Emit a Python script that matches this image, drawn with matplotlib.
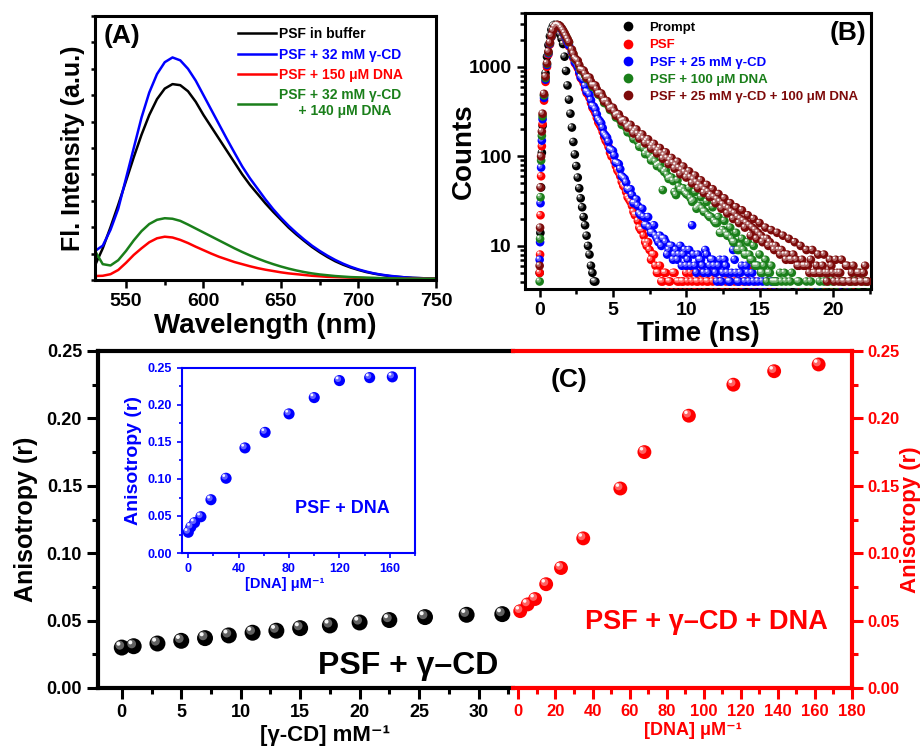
import numpy as np
import matplotlib
matplotlib.use('Agg')
import matplotlib.pyplot as plt
from matplotlib.lines import Line2D
from matplotlib.ticker import MultipleLocator, FormatStrFormatter, LogLocator, NullFormatter
from matplotlib.transforms import offset_copy
from matplotlib.colors import to_rgb

plt.rcParams['font.family'] = ['Liberation Sans', 'DejaVu Sans']
plt.rcParams['font.weight'] = 'bold'
plt.rcParams['axes.labelweight'] = 'bold'

GREEN  = '#1a7f1a'
MAROON = '#7d0a0a'

# ---- (A) steady-state emission spectra ----
wavelength = np.arange(530, 751, 5)
fl_buffer = [0.055, 0.12, 0.20, 0.285, 0.375, 0.465, 0.55, 0.625, 0.685, 0.725,
             0.742, 0.738, 0.715, 0.675, 0.625, 0.58, 0.535, 0.49, 0.445, 0.40,
             0.36, 0.325, 0.29, 0.258, 0.228, 0.198, 0.172, 0.148, 0.125, 0.105,
             0.087, 0.071, 0.058, 0.047, 0.038, 0.030, 0.024, 0.019, 0.015, 0.012,
             0.010, 0.008, 0.007, 0.006, 0.005]
fl_cd     = [0.11, 0.13, 0.19, 0.27, 0.385, 0.50, 0.615, 0.71, 0.78, 0.825,
             0.843, 0.832, 0.80, 0.755, 0.70, 0.645, 0.59, 0.535, 0.482, 0.43,
             0.385, 0.345, 0.305, 0.268, 0.235, 0.205, 0.178, 0.153, 0.13, 0.11,
             0.092, 0.076, 0.062, 0.05, 0.04, 0.032, 0.025, 0.02, 0.016, 0.013,
             0.010, 0.008, 0.007, 0.006, 0.005]
fl_dna    = [0.015, 0.016, 0.022, 0.038, 0.065, 0.095, 0.12, 0.143, 0.158, 0.164,
             0.161, 0.152, 0.14, 0.126, 0.113, 0.10, 0.088, 0.078, 0.068, 0.06,
             0.052, 0.045, 0.039, 0.034, 0.029, 0.025, 0.022, 0.019, 0.016, 0.014,
             0.012, 0.011, 0.010, 0.009, 0.008, 0.007, 0.007, 0.006, 0.006, 0.005,
             0.005, 0.005, 0.005, 0.005, 0.005]
fl_cd_dna = [0.11, 0.06, 0.055, 0.075, 0.11, 0.15, 0.185, 0.212, 0.228, 0.234,
             0.232, 0.224, 0.21, 0.195, 0.18, 0.165, 0.15, 0.135, 0.12, 0.106,
             0.093, 0.081, 0.07, 0.06, 0.051, 0.043, 0.036, 0.03, 0.025, 0.021,
             0.018, 0.015, 0.013, 0.011, 0.010, 0.009, 0.008, 0.007, 0.006, 0.006,
             0.005, 0.005, 0.005, 0.005, 0.005]

# ---- (B) TCSPC decays ----
t_prompt = [0.0, 0.05, 0.1, 0.15, 0.2, 0.3, 0.4, 0.5, 0.6, 0.7, 0.8, 0.9, 1.0, 1.1,
            1.2, 1.3, 1.4, 1.5, 1.6, 1.7, 1.8, 1.9, 2.0, 2.1, 2.2, 2.3, 2.4, 2.5,
            2.6, 2.7, 2.8, 2.9, 3.0, 3.1, 3.2, 3.3, 3.4, 3.5, 3.6, 3.7, 3.8]
prompt   = [5, 14, 45, 110, 220, 480, 850, 1300, 1750, 2200, 2600, 2850, 2950, 2900,
            2750, 2550, 2300, 2050, 1800, 1300, 900, 620, 430, 300, 210, 145, 105, 78,
            58, 44, 34, 27, 21, 17, 13, 10, 8, 6, 5, 4, 4]

# channel times: rising edge, then even and odd channels of the decay
t_rise = [0.0, 0.03, 0.06, 0.1, 0.15, 0.2, 0.3, 0.4, 0.5, 0.6, 0.7, 0.8, 0.9, 1.0,
          1.1, 1.2, 1.3, 1.4, 1.5, 1.6, 1.7, 1.8, 1.9, 2.0]
t_even = np.round(np.arange(2.2, 22.41, 0.2), 2)
t_odd  = np.round(np.arange(2.3, 22.31, 0.2), 2)
t_fl = np.concatenate([t_rise, t_even, t_odd])

psf = [5, 8, 22, 60, 130, 230, 420, 680, 1000, 1380, 1780, 2150, 2480, 2720,
       2860, 2920, 2880, 2780, 2620, 2440, 2240, 2050, 1880, 1700,
       # even channels
       1450, 1100, 970, 750, 660, 510, 450, 350, 305, 240,
       210, 165, 142, 110, 98, 78, 66, 52, 45, 35,
       31, 24, 22, 16, 15, 11, 11, 7, 8, 5,
       6, 4, 5, 4, 3, 5, 4, 3, 4, 5,
       3, 4, 3, 4, 5, 3, 4, 2, 4, 3,
       4, 3, 5, 3, 4, 2, 3, 4, 3, 2,
       4, 6, 3, 2, 3, 2, 3, 2, 2, 3,
       2, 3, 2, 2, 3, 2, 2, 3, 2, 2,
       2, 2, 3, 2, 2, 2, 3, 2, 2, 2,
       2, 3, 2, 2, 2, 2, 3, 2, 2, 2,
       2, 2,
       # odd channels
       1250, 1050, 840, 720, 570, 490, 395, 330, 270, 225,
       188, 150, 128, 100, 88, 70, 60, 47, 40, 33,
       28, 22, 19, 15, 13, 10, 9, 8, 6, 5,
       4, 5, 3, 4, 5, 3, 4, 4, 3, 4,
       5, 3, 4, 3, 4, 2, 4, 3, 5, 2,
       4, 3, 4, 2, 3, 4, 2, 3, 4, 2,
       3, 2, 4, 2, 3, 2, 2, 3, 2, 2,
       2, 2, 3, 2, 2, 2, 2, 3, 2, 2,
       2, 3, 2, 2, 2, 2, 2, 2, 3, 2,
       2, 2, 2, 3, 2, 2, 2, 2, 2, 2,
       2]
psf_cd = [7, 11, 30, 75, 150, 260, 450, 720, 1050, 1420, 1820, 2180, 2500, 2740,
          2880, 2930, 2900, 2800, 2650, 2470, 2280, 2090, 1910, 1740,
          # even channels
          1480, 1130, 1000, 770, 710, 530, 490, 365, 335, 260,
          235, 178, 162, 120, 115, 85, 82, 60, 56, 43,
          43, 30, 33, 23, 26, 17, 21, 14, 17, 12,
          13, 12, 11, 9, 10, 8, 7, 10, 8, 6,
          9, 17, 6, 8, 7, 5, 8, 6, 7, 5,
          6, 4, 7, 5, 4, 9, 5, 4, 6, 4,
          5, 3, 4, 6, 3, 4, 3, 2, 4, 3,
          2, 3, 2, 2, 3, 2, 2, 2, 3, 2,
          2, 2, 2, 3, 2, 2, 2, 2, 2, 2,
          2, 2, 2, 2, 3, 2, 2, 2, 2, 2,
          2, 2,
          # odd channels
          1290, 1080, 880, 740, 610, 520, 425, 360, 295, 248,
          208, 170, 145, 118, 102, 84, 72, 58, 51, 42,
          37, 30, 28, 22, 21, 17, 16, 14, 13, 11,
          10, 12, 8, 10, 7, 9, 8, 6, 9, 7,
          6, 8, 5, 7, 6, 9, 5, 7, 6, 4,
          7, 5, 6, 4, 5, 7, 4, 5, 3, 6,
          4, 5, 3, 4, 5, 3, 4, 2, 3, 4,
          2, 2, 3, 2, 2, 2, 3, 2, 2, 2,
          2, 2, 2, 2, 3, 2, 2, 2, 2, 2,
          2, 3, 2, 2, 2, 2, 2, 2, 2, 2,
          2]
psf_dna = [4, 12, 35, 90, 170, 280, 480, 750, 1080, 1450, 1850, 2200, 2520, 2750,
           2890, 2940, 2910, 2830, 2690, 2530, 2360, 2190, 2030, 1880,
           # even channels
           1530, 1230, 1140, 920, 890, 735, 730, 600, 595, 490,
           490, 395, 405, 330, 340, 272, 278, 225, 232, 186,
           195, 156, 162, 128, 138, 106, 114, 90, 98, 78,
           82, 42, 70, 56, 58, 40, 54, 42, 44, 38,
           44, 31, 40, 27, 35, 24, 31, 21, 27, 18,
           21, 14, 19, 13, 16, 11, 14, 9, 12, 8,
           11, 7, 10, 6, 8, 5, 7, 5, 6, 4,
           4, 5, 3, 4, 3, 5, 2, 4, 3, 3,
           4, 2, 3, 5, 3, 2, 4, 3, 2, 4,
           3, 2, 4, 3, 2, 3, 2, 5, 3, 2,
           4, 3,
           # odd channels
           1380, 1190, 1020, 900, 800, 735, 660, 600, 540, 490,
           440, 400, 365, 335, 305, 278, 252, 230, 210, 192,
           175, 160, 146, 133, 122, 112, 102, 94, 87, 80,
           73, 67, 62, 57, 53, 37, 46, 42, 40, 37,
           34, 32, 26, 28, 26, 24, 22, 21, 19, 18,
           14, 15, 14, 13, 12, 11, 9, 10, 9, 8,
           8, 7, 6, 6, 5, 6, 4, 5, 4, 4,
           3, 4, 5, 3, 4, 2, 3, 4, 3, 2,
           3, 4, 2, 3, 4, 3, 2, 4, 3, 2,
           3, 2, 4, 2, 3, 4, 2, 3, 5, 2,
           4]
psf_cd_dna = [6, 16, 45, 100, 190, 300, 500, 780, 1100, 1480, 1870, 2220, 2540, 2770,
              2900, 2950, 2920, 2840, 2700, 2550, 2380, 2210, 2050, 1900,
              # even channels
              1560, 1250, 1170, 930, 910, 750, 760, 620, 620, 500,
              505, 410, 415, 340, 350, 285, 295, 245, 252, 210,
              225, 180, 200, 158, 176, 140, 155, 122, 138, 108,
              124, 94, 111, 82, 96, 73, 87, 63, 77, 58,
              68, 50, 61, 44, 54, 39, 48, 35, 43, 30,
              38, 26, 34, 23, 30, 20, 27, 18, 25, 16,
              22, 13, 20, 12, 18, 11, 16, 10, 15, 9,
              14, 8, 13, 7, 12, 7, 11, 6, 10, 6,
              9, 5, 9, 5, 8, 5, 8, 4, 7, 5,
              7, 4, 7, 4, 6, 4, 6, 4, 5, 4,
              6, 4,
              # odd channels
              1400, 1200, 1050, 920, 830, 760, 685, 620, 560, 505,
              458, 415, 378, 345, 318, 292, 268, 250, 230, 216,
              200, 190, 178, 166, 157, 148, 138, 131, 122, 116,
              108, 102, 95, 90, 84, 79, 74, 70, 66, 62,
              58, 55, 51, 48, 45, 42, 40, 37, 35, 33,
              31, 29, 27, 26, 24, 23, 21, 20, 19, 18,
              17, 16, 15, 14, 13, 12, 12, 11, 10, 10,
              9, 9, 8, 8, 7, 8, 7, 6, 7, 6,
              6, 7, 5, 6, 5, 6, 5, 5, 6, 4,
              5, 5, 4, 6, 4, 5, 4, 5, 4, 5,
              4]

# ---- (C) anisotropy titrations ----
cd_conc  = [0, 1, 3, 5, 7, 9, 11, 13, 15, 17.5, 20, 22.5, 25.5, 29, 32]
r_cd     = [0.030, 0.031, 0.033, 0.035, 0.037, 0.039, 0.041, 0.0425, 0.0444,
            0.0464, 0.0486, 0.0504, 0.0526, 0.0543, 0.0548]
dna_conc = [1, 5, 9, 15, 23, 35, 55, 68, 92, 116, 138, 162]
r_cd_dna = [0.057, 0.062, 0.066, 0.077, 0.089, 0.111, 0.148, 0.175, 0.202,
            0.225, 0.235, 0.240]
dna_free = [0, 2, 5, 10, 18, 30, 45, 61, 80, 100, 120, 144, 162]
r_dna    = [0.028, 0.035, 0.041, 0.049, 0.072, 0.101, 0.142, 0.163, 0.188,
            0.210, 0.233, 0.237, 0.238]


def balls(ax, x, y, color, size, z=3, clip=True):
    """Scatter drawn as shaded spheres: base disc plus two offset highlights."""
    fig = ax.figure
    ax.scatter(x, y, s=size ** 2, c=[color], edgecolors='none', zorder=z, clip_on=clip)
    light = tuple(c + (1 - c) * 0.45 for c in to_rgb(color))
    for frac, col, alpha in ((0.55, light, 0.85), (0.25, 'white', 0.95)):
        off = offset_copy(ax.transData, fig=fig, x=-size * (1 - frac) * 0.28,
                          y=size * (1 - frac) * 0.32, units='points')
        ax.scatter(x, y, s=(size * frac) ** 2, c=[col], edgecolors='none',
                   alpha=alpha, zorder=z, transform=off, clip_on=clip)


def style(ax, color, lw, fs, major=6, minor=3.5, tw=1.8):
    for sp in ax.spines.values():
        sp.set_linewidth(lw)
        sp.set_color(color)
    ax.tick_params(which='both', direction='out', width=tw, colors=color,
                   labelsize=fs, labelcolor=color)
    ax.tick_params(which='major', length=major)
    ax.tick_params(which='minor', length=minor)


W, H = 924, 755
def box(l, t, r, b):
    return [l / W, 1 - b / H, (r - l) / W, (b - t) / H]

fig = plt.figure(figsize=(9.24, 7.55), dpi=100)
axA = fig.add_axes(box(95, 16, 436, 280))
axB = fig.add_axes(box(525, 13, 871, 289))
axL = fig.add_axes(box(98, 351, 513, 688))
axR = fig.add_axes(box(513, 351, 852, 688))
axI = fig.add_axes(box(182, 368, 415, 553))

# ---- panel A ----
axA.plot(wavelength, fl_buffer, color='black', lw=1.8, label='PSF in buffer')
axA.plot(wavelength, fl_cd, color='blue', lw=1.8, label='PSF + 32 mM γ-CD')
axA.plot(wavelength, fl_dna, color='red', lw=1.8, label='PSF + 150 μM DNA')
axA.plot(wavelength, fl_cd_dna, color=GREEN, lw=1.8,
         label='PSF + 32 mM γ-CD\n     + 140 μM DNA')
axA.set_xlim(530, 750)
axA.set_ylim(0, 1)
style(axA, 'black', 2.2, 14)
axA.xaxis.set_major_locator(MultipleLocator(50))
axA.xaxis.set_minor_locator(MultipleLocator(25))
axA.yaxis.set_major_locator(MultipleLocator(0.1))
axA.tick_params(axis='y', labelleft=False, length=3)
axA.set_xlabel('Wavelength (nm)', fontsize=20)
axA.set_ylabel('Fl. Intensity (a.u.)', fontsize=18)
axA.xaxis.set_label_coords(0.5, -0.125)
axA.yaxis.set_label_coords(-0.03, 0.5)
axA.text(0.08, 0.925, '(A)', transform=axA.transAxes, fontsize=19,
         ha='center', va='center')
axA.legend(loc='upper left', bbox_to_anchor=(0.418, 0.957), frameon=False,
           fontsize=10, handlelength=2.8, handletextpad=0.15, labelspacing=0.45,
           borderpad=0, borderaxespad=0, labelcolor='linecolor')

# ---- panel B ----
decays = [
    (t_prompt, prompt, 'black', 'Prompt'),
    (t_fl, psf, 'red', 'PSF'),
    (t_fl, psf_cd, 'blue', 'PSF + 25 mM γ-CD'),
    (t_fl, psf_dna, GREEN, 'PSF + 100 μM DNA'),
    (t_fl, psf_cd_dna, MAROON, 'PSF + 25 mM γ-CD + 100 μM DNA'),
]
axB.set_yscale('log')
for t, c, col, _ in decays:
    balls(axB, t, c, col, 6.2)
axB.set_xlim(-1, 22.6)
axB.set_ylim(3.3, 4000)
style(axB, 'black', 2.2, 14)
axB.xaxis.set_major_locator(MultipleLocator(5))
axB.xaxis.set_minor_locator(MultipleLocator(2.5))
axB.set_yticks([10, 100, 1000])
axB.set_yticklabels(['10', '100', '1000'])
axB.yaxis.set_minor_locator(LogLocator(base=10, subs=np.arange(2, 10)))
axB.yaxis.set_minor_formatter(NullFormatter())
axB.set_xlabel('Time (ns)', fontsize=20)
axB.set_ylabel('Counts', fontsize=20)
axB.xaxis.set_label_coords(0.5, -0.115)
axB.yaxis.set_label_coords(-0.14, 0.5)
axB.text(0.934, 0.928, '(B)', transform=axB.transAxes, fontsize=19,
         ha='center', va='center')
handles = [Line2D([], [], ls='none', marker='o', markersize=7, color=col,
                  markeredgecolor='none') for _, _, col, _ in decays]
axB.legend(handles, [lab for *_, lab in decays], loc='upper left',
           bbox_to_anchor=(0.28, 0.968), frameon=False, fontsize=9.5,
           handlelength=1.0, handletextpad=1.1, labelspacing=0.38,
           borderpad=0, borderaxespad=0, labelcolor=[d[2] for d in decays])

# ---- panel C, left half: gamma-CD titration ----
balls(axL, cd_conc, r_cd, 'black', 11.5, clip=False)
axL.set_xlim(-2, 32.9)
axL.set_ylim(0, 0.25)
style(axL, 'black', 3, 13, major=8, minor=4.5, tw=2.2)
axL.spines['right'].set_visible(False)
axL.tick_params(top=False, right=False)
axL.xaxis.set_major_locator(MultipleLocator(5))
axL.xaxis.set_minor_locator(MultipleLocator(2.5))
axL.yaxis.set_major_locator(MultipleLocator(0.05))
axL.yaxis.set_minor_locator(MultipleLocator(0.025))
axL.yaxis.set_major_formatter(FormatStrFormatter('%.2f'))
axL.set_ylabel('Anisotropy (r)', fontsize=18)
axL.yaxis.set_label_coords(-0.145, 0.5)
axL.set_xlabel('[γ-CD] mM⁻¹', fontsize=16)
axL.xaxis.set_label_coords(0.547, -0.11)
axL.text(0.747, 0.066, 'PSF + γ–CD', transform=axL.transAxes, fontsize=23,
         ha='center', va='center')

# ---- panel C, right half: DNA titration of the gamma-CD complex ----
axR.patch.set_alpha(0)
balls(axR, dna_conc, r_cd_dna, 'red', 10, z=4, clip=False)
axR.set_xlim(-2.9, 180)
axR.set_ylim(0, 0.25)
style(axR, 'red', 3, 12, major=8, minor=4.5, tw=2.2)
axR.spines['left'].set_visible(False)
axR.yaxis.tick_right()
axR.yaxis.set_label_position('right')
axR.tick_params(top=False, left=False)
axR.tick_params(axis='y', pad=3)
axR.xaxis.set_major_locator(MultipleLocator(20))
axR.xaxis.set_minor_locator(MultipleLocator(10))
axR.yaxis.set_major_locator(MultipleLocator(0.05))
axR.yaxis.set_minor_locator(MultipleLocator(0.025))
axR.yaxis.set_major_formatter(FormatStrFormatter('%.2f'))
axR.set_ylabel('Anisotropy (r)', fontsize=16, color='red', rotation=90)
axR.yaxis.set_label_coords(1.143, 0.5)
axR.set_xlabel('[DNA] μM⁻¹', fontsize=13, color='red')
axR.xaxis.set_label_coords(0.53, -0.1)
axR.text(0.165, 0.913, '(C)', transform=axR.transAxes, fontsize=19,
         ha='center', va='center')
axR.text(0.572, 0.196, 'PSF + γ–CD + DNA', transform=axR.transAxes,
         fontsize=19.5, color='red', ha='center', va='center')

# ---- inset: free DNA titration ----
balls(axI, dna_free, r_dna, 'blue', 8)
axI.set_xlim(-5, 180)
axI.set_ylim(0, 0.25)
style(axI, 'blue', 1.5, 9, major=3.5, minor=2, tw=1.2)
axI.tick_params(top=False, right=False)
axI.xaxis.set_major_locator(MultipleLocator(40))
axI.xaxis.set_minor_locator(MultipleLocator(20))
axI.yaxis.set_major_locator(MultipleLocator(0.05))
axI.yaxis.set_minor_locator(MultipleLocator(0.025))
axI.yaxis.set_major_formatter(FormatStrFormatter('%.2f'))
axI.set_ylabel('Anisotropy (r)', fontsize=14, color='blue')
axI.yaxis.set_label_coords(-0.17, 0.5)
axI.set_xlabel('[DNA] μM⁻¹', fontsize=10.5, color='blue')
axI.xaxis.set_label_coords(0.44, -0.13)
axI.text(0.687, 0.242, 'PSF + DNA', transform=axI.transAxes, fontsize=13,
         color='blue', ha='center', va='center')

fig.savefig('out.png', dpi=100)
